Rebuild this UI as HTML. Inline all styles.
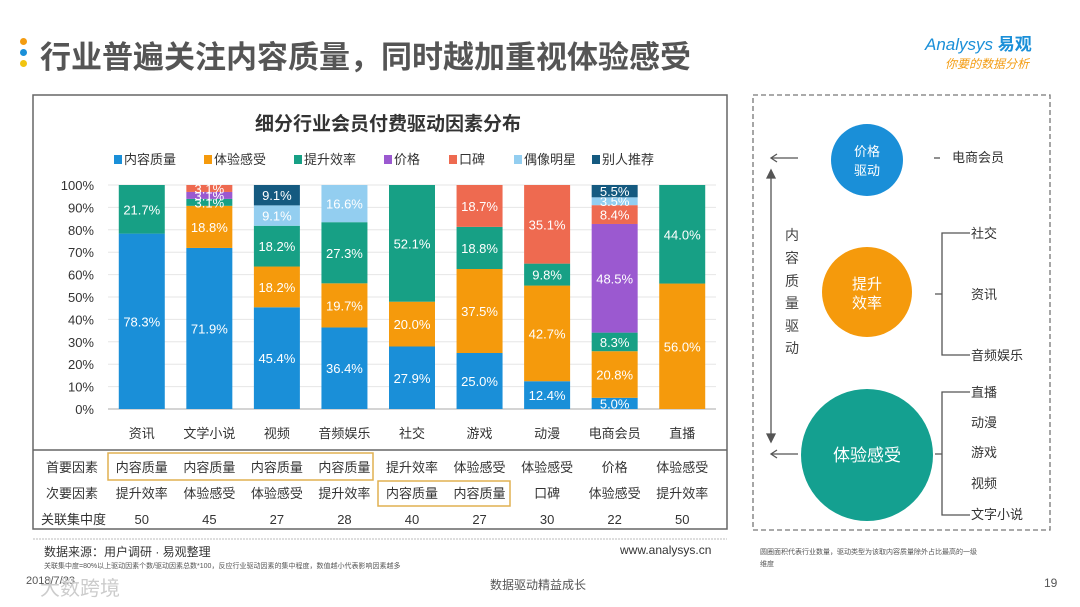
<!DOCTYPE html>
<html><head><meta charset="utf-8">
<style>
body{margin:0;width:1080px;height:607px;overflow:hidden;background:#fff;font-family:"Liberation Sans","Noto Sans CJK SC",sans-serif;position:relative}
.a{position:absolute}
</style></head><body>
<div class="a" style="left:20px;top:38px">
 <div style="width:7px;height:7px;border-radius:50%;background:#f39c12;margin-bottom:4px"></div>
 <div style="width:7px;height:7px;border-radius:50%;background:#1a8fd8;margin-bottom:4px"></div>
 <div style="width:7px;height:7px;border-radius:50%;background:#f1c40f"></div>
</div>
<div class="a" style="left:40px;top:32px;font-size:31px;font-weight:bold;color:#555">行业普遍关注内容质量，同时越加重视体验感受</div>
<div class="a" style="left:925px;top:30px;font-size:17px;color:#1a8fd8;font-style:italic">Analysys <b style="font-style:normal">易观</b></div>
<div class="a" style="left:945px;top:55px;font-size:12px;color:#f39c12;font-style:italic">你要的数据分析</div>

<svg class="a" style="left:0;top:0" width="1080" height="607">
 <rect x="33" y="95" width="694" height="434" fill="none" stroke="#666" stroke-width="1.5"/>
 <line x1="33" y1="450" x2="727" y2="450" stroke="#666" stroke-width="1.5"/>
 <line x1="33" y1="539" x2="727" y2="539" stroke="#bbb" stroke-dasharray="2,1"/>
 <text x="388" y="130" text-anchor="middle" font-size="19" font-weight="bold" fill="#333">细分行业会员付费驱动因素分布</text>
 <g id="legend"></g><g id="grid"></g><g id="bars"></g><g id="xl"></g>
 <rect x="108" y="453" width="265" height="27" fill="none" stroke="#e0b050" stroke-width="1.5"/>
 <rect x="378" y="481" width="132" height="25" fill="none" stroke="#e0b050" stroke-width="1.5"/>
 <g id="table" font-size="13" fill="#333"></g>
</svg>

<div class="a" style="left:44px;top:543px;font-size:12px;color:#333">数据来源：用户调研 · 易观整理</div>
<div class="a" style="left:620px;top:543px;font-size:12px;color:#333">www.analysys.cn</div>
<div class="a" style="left:44px;top:561px;font-size:7px;color:#555">关联集中度=80%以上驱动因素个数/驱动因素总数*100，反应行业驱动因素的集中程度，数值越小代表影响因素越多</div>
<div class="a" style="left:26px;top:575px;font-size:11px;color:#555">2018/7/23</div>
<div class="a" style="left:40px;top:572px;font-size:20px;color:#ccc">大数跨境</div>
<div class="a" style="left:490px;top:576px;font-size:12px;color:#555">数据驱动精益成长</div>
<div class="a" style="left:1044px;top:576px;font-size:12px;color:#555">19</div>

<svg class="a" style="left:0;top:0" width="1080" height="607">
 <rect x="753" y="95" width="297" height="435" fill="none" stroke="#777" stroke-dasharray="5,3" stroke-width="1.3"/>
 <circle cx="867" cy="160" r="36" fill="#1a8fd8"/>
 <text x="867" y="156" text-anchor="middle" font-size="13" fill="#fff">价格</text><text x="867" y="175" text-anchor="middle" font-size="13" fill="#fff">驱动</text>
 <circle cx="867" cy="292" r="45" fill="#f59a0c"/>
 <text x="867" y="289" text-anchor="middle" font-size="15" fill="#fff">提升</text><text x="867" y="308" text-anchor="middle" font-size="15" fill="#fff">效率</text>
 <circle cx="867" cy="455" r="66" fill="#14a090"/>
 <text x="867" y="461" text-anchor="middle" font-size="17" fill="#fff">体验感受</text>
 <g stroke="#555" stroke-width="1.3" fill="none">
  <line x1="772" y1="158" x2="798" y2="158"/><path d="M777,154 L771,158 L777,162"/>
  <line x1="772" y1="454" x2="798" y2="454"/><path d="M777,450 L771,454 L777,458"/>
  <line x1="771" y1="172" x2="771" y2="440"/><path d="M767,178 L771,170 L775,178 Z M767,434 L771,442 L775,434 Z" fill="#555"/>
  <line x1="934" y1="158" x2="940" y2="158"/>
  <path d="M970,233 H942 V355 H970 M935,294 H942"/>
  <path d="M970,392 H942 V515 H970 M935,454 H942"/>
 </g>
 <g font-size="13" fill="#333">
  <text x="952" y="162">电商会员</text>
  <text x="971" y="238">社交</text><text x="971" y="299">资讯</text><text x="971" y="360">音频娱乐</text>
  <text x="971" y="397">直播</text><text x="971" y="427">动漫</text><text x="971" y="457">游戏</text><text x="971" y="488">视频</text><text x="971" y="519">文字小说</text>
 </g>
 <g font-size="14" fill="#444" text-anchor="middle">
  <text x="792" y="240">内</text><text x="792" y="263">容</text><text x="792" y="286">质</text><text x="792" y="308">量</text><text x="792" y="331">驱</text><text x="792" y="353">动</text>
 </g>
 <text x="760" y="554" font-size="7" fill="#555">圆圈面积代表行业数量，驱动类型为该取内容质量除外占比最高的一级</text>
 <text x="760" y="566" font-size="7" fill="#555">维度</text>
</svg>

<script>
const categories=["资讯","文学小说","视频","音频娱乐","社交","游戏","动漫","电商会员","直播"];
const seriesNames=["内容质量","体验感受","提升效率","价格","口碑","偶像明星","别人推荐"];
const contentQuality=[78.3,71.9,45.4,36.4,27.9,25.0,12.4,5.0,0];
const experience=[0,18.8,18.2,19.7,20.0,37.5,42.7,20.8,56.0];
const efficiency=[21.7,3.1,18.2,27.3,52.1,18.8,9.8,8.3,44.0];
const price=[0,3.1,0,0,0,0,0,48.5,0];
const reputation=[0,3.1,0,0,0,18.7,35.1,8.4,0];
const idol=[0,0,9.1,16.6,0,0,0,3.5,0];
const referral=[0,0,9.1,0,0,0,0,5.5,0];
const yTicks=[0,10,20,30,40,50,60,70,80,90,100];
const primary=["内容质量","内容质量","内容质量","内容质量","提升效率","体验感受","体验感受","价格","体验感受"];
const secondary=["提升效率","体验感受","体验感受","提升效率","内容质量","内容质量","口碑","体验感受","提升效率"];
const concentration=[50,45,27,28,40,27,30,22,50];

const series=[contentQuality,experience,efficiency,price,reputation,idol,referral];
const colors=["#1a8fd8","#f59a0c","#17a085","#9b59d0","#ee6a50","#93cef0","#155a80"];
const NS="http://www.w3.org/2000/svg";
const y0=409,y1=185,xL=108,xR=716;
const yS=v=>y0-(v/100)*(y0-y1);
const step=(xR-xL)/categories.length;
const xC=i=>xL+step*(i+0.5);
const bw=46;
function mk(p,t,a){const e=document.createElementNS(NS,t);for(const k in a)e.setAttribute(k,a[k]);p.appendChild(e);return e;}
const grid=document.getElementById('grid');
yTicks.forEach(t=>{
 const l=mk(grid,'line',{x1:xL,x2:xR,y1:yS(t),y2:yS(t),stroke:t===0?'#aaa':'#e6e6e6'});
 
 
 const tx=mk(grid,'text',{x:94,y:yS(t)+5,'text-anchor':'end','font-size':13,fill:'#333'});
 tx.textContent=t+'%';
 
 
});
const lg=document.getElementById('legend');
const lx=[114,204,294,384,449,514,592];
seriesNames.forEach((n,i)=>{
 const g=mk(lg,'g',{});
 
 
 mk(g,'rect',{x:lx[i],y:155,width:8,height:9,fill:colors[i]});
 const t=mk(g,'text',{x:lx[i]+10,y:164,'font-size':13,fill:'#333'});t.textContent=n;
});
const bars=document.getElementById('bars');
categories.forEach((c,i)=>{
 let acc=0;
 series.forEach((s,k)=>{
  const v=s[i];if(!v)return;
  const r=mk(bars,'rect',{x:xC(i)-bw/2,y:yS(acc+v),width:bw,height:yS(acc)-yS(acc+v),fill:colors[k]});
  
  
  const t=mk(bars,'text',{x:xC(i),y:(yS(acc)+yS(acc+v))/2+5,'text-anchor':'middle','font-size':13,fill:'#fff'});
  t.textContent=v.toFixed(1)+'%';
  
  
  acc+=v;
 });
 const xt=mk(document.getElementById('xl'),'text',{x:xC(i),y:438,'text-anchor':'middle','font-size':13,fill:'#333'});
 xt.textContent=c;
 
 
});
const tb=document.getElementById('table');
[["首要因素",primary,472],["次要因素",secondary,498],["关联集中度",concentration,524]].forEach(r=>{
 const h=mk(tb,'text',{x:r[0].length>4?41:46,y:r[2]});h.textContent=r[0];
 
 
 r[1].forEach((v,i)=>{
  const t=mk(tb,'text',{x:xC(i),y:r[2],'text-anchor':'middle'});t.textContent=v;
  
  
 });
});
</script>
</body></html>
